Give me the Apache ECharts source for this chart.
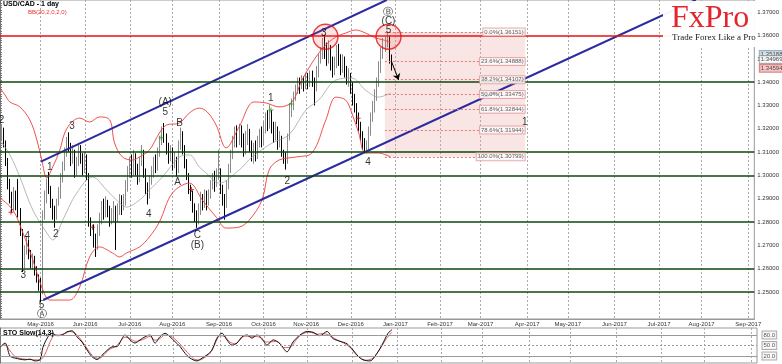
<!DOCTYPE html>
<html><head><meta charset="utf-8">
<script src="https://cdn.jsdelivr.net/npm/echarts@6/dist/echarts.min.js"></script>
<style>html,body{margin:0;padding:0;background:#fff}#c{width:782px;height:364px}</style>
</head><body><div id="c"></div>
<script>
// ---------- data ----------
const startDay = '2016-04-04', endDay = '2017-09-06';
// daily candles [open, high, low, close]
const ohlc = [
[1.3150,1.3215,1.3130,1.3170],[1.3170,1.3220,1.3150,1.3195],[1.3195,1.3205,1.3120,1.3140],[1.3140,1.3150,1.3040,1.3060],
[1.3060,1.3075,1.2940,1.2960],[1.2960,1.2985,1.2880,1.2900],[1.2900,1.2930,1.2840,1.2870],[1.2870,1.2950,1.2850,1.2920],
[1.2920,1.2935,1.2850,1.2880],[1.2880,1.2985,1.2820,1.2850],[1.2850,1.2860,1.2740,1.2760],[1.2760,1.2770,1.2585,1.2620],
[1.2620,1.2700,1.2600,1.2680],[1.2680,1.2740,1.2660,1.2715],[1.2715,1.2725,1.2640,1.2660],[1.2660,1.2680,1.2600,1.2620],
[1.2620,1.2665,1.2595,1.2640],[1.2640,1.2655,1.2570,1.2590],[1.2590,1.2610,1.2540,1.2560],[1.2560,1.2575,1.2505,1.2530],
[1.2530,1.2560,1.2455,1.2500],[1.2500,1.2850,1.2490,1.2830],[1.2830,1.2935,1.2810,1.2900],[1.2900,1.2985,1.2880,1.2960],
[1.2960,1.3015,1.2920,1.2940],[1.2940,1.2955,1.2860,1.2880],[1.2880,1.2900,1.2810,1.2850],[1.2850,1.2870,1.2775,1.2830],
[1.2830,1.2900,1.2810,1.2880],[1.2880,1.2950,1.2870,1.2920],[1.2920,1.3010,1.2900,1.2990],[1.2990,1.3060,1.2970,1.3040],
[1.3040,1.3120,1.3020,1.3100],[1.3100,1.3165,1.3080,1.3150],[1.3150,1.3185,1.3100,1.3130],[1.3130,1.3140,1.3040,1.3070],
[1.3070,1.3130,1.3050,1.3100],[1.3100,1.3110,1.2990,1.3020],[1.3020,1.3080,1.3000,1.3060],[1.3060,1.3140,1.3040,1.3110],
[1.3110,1.3130,1.3050,1.3080],[1.3080,1.3095,1.3000,1.3030],[1.3030,1.3100,1.3010,1.3070],[1.3070,1.3090,1.2980,1.3000],
[1.3000,1.3010,1.2780,1.2800],[1.2800,1.2820,1.2740,1.2770],[1.2770,1.2790,1.2690,1.2720],[1.2720,1.2750,1.2650,1.2700],
[1.2700,1.2790,1.2680,1.2760],[1.2760,1.2840,1.2740,1.2810],[1.2810,1.2890,1.2790,1.2870],[1.2870,1.2900,1.2810,1.2840],
[1.2840,1.2910,1.2820,1.2880],[1.2880,1.2895,1.2820,1.2850],[1.2850,1.2870,1.2780,1.2800],[1.2800,1.2860,1.2790,1.2830],
[1.2830,1.2890,1.2800,1.2860],[1.2860,1.2870,1.2680,1.2820],[1.2820,1.2880,1.2800,1.2850],[1.2850,1.2920,1.2830,1.2900],
[1.2900,1.2915,1.2830,1.2860],[1.2860,1.2920,1.2850,1.2890],[1.2890,1.2980,1.2870,1.2950],[1.2950,1.3040,1.2930,1.3010],
[1.3010,1.3080,1.2990,1.3050],[1.3050,1.3090,1.2990,1.3020],[1.3020,1.3110,1.3000,1.3080],[1.3080,1.3095,1.3000,1.3030],
[1.3030,1.3050,1.2960,1.2990],[1.2990,1.3080,1.2970,1.3060],[1.3060,1.3130,1.3040,1.3100],[1.3100,1.3110,1.2990,1.3020],
[1.3020,1.3030,1.2920,1.2950],[1.2950,1.2970,1.2875,1.2920],[1.2920,1.3000,1.2900,1.2980],[1.2980,1.3040,1.2960,1.3010],
[1.3010,1.3080,1.2990,1.3060],[1.3060,1.3090,1.3010,1.3040],[1.3040,1.3120,1.3020,1.3100],[1.3100,1.3170,1.3080,1.3150],
[1.3150,1.3210,1.3130,1.3190],[1.3190,1.3225,1.3140,1.3170],[1.3170,1.3180,1.3090,1.3120],[1.3120,1.3140,1.3050,1.3080],
[1.3080,1.3130,1.3060,1.3110],[1.3110,1.3120,1.3020,1.3050],[1.3050,1.3100,1.3030,1.3070],[1.3070,1.3080,1.2995,1.3020],
[1.3020,1.3150,1.3010,1.3130],[1.3130,1.3205,1.3110,1.3170],[1.3170,1.3190,1.3090,1.3110],[1.3110,1.3130,1.3030,1.3060],
[1.3060,1.3070,1.2980,1.3000],[1.3000,1.3010,1.2920,1.2940],[1.2940,1.2960,1.2890,1.2920],[1.2920,1.2935,1.2840,1.2870],
[1.2870,1.2880,1.2800,1.2830],[1.2830,1.2850,1.2775,1.2800],[1.2800,1.2880,1.2790,1.2850],[1.2850,1.2930,1.2830,1.2900],
[1.2900,1.2920,1.2850,1.2880],[1.2880,1.2940,1.2860,1.2920],[1.2920,1.2935,1.2850,1.2880],[1.2880,1.2940,1.2870,1.2910],
[1.2910,1.2980,1.2900,1.2950],[1.2950,1.3010,1.2940,1.2990],[1.2990,1.3020,1.2930,1.2960],[1.2960,1.3030,1.2950,1.3000],
[1.3000,1.3110,1.2980,1.3020],[1.3020,1.3030,1.2920,1.2950],[1.2950,1.2960,1.2870,1.2900],[1.2900,1.2920,1.2810,1.2880],
[1.2880,1.2980,1.2860,1.2960],[1.2960,1.3050,1.2940,1.3030],[1.3030,1.3110,1.3010,1.3090],[1.3090,1.3170,1.3070,1.3140],
[1.3140,1.3210,1.3120,1.3190],[1.3190,1.3215,1.3120,1.3150],[1.3150,1.3222,1.3130,1.3200],[1.3200,1.3215,1.3120,1.3160],
[1.3160,1.3180,1.3080,1.3110],[1.3110,1.3190,1.3090,1.3150],[1.3150,1.3220,1.3130,1.3180],[1.3180,1.3200,1.3100,1.3130],
[1.3130,1.3150,1.3060,1.3080],[1.3080,1.3140,1.3050,1.3120],[1.3120,1.3150,1.3060,1.3090],[1.3090,1.3170,1.3070,1.3140],
[1.3140,1.3200,1.3120,1.3180],[1.3180,1.3210,1.3120,1.3150],[1.3150,1.3230,1.3130,1.3200],[1.3200,1.3270,1.3180,1.3240],
[1.3240,1.3280,1.3190,1.3220],[1.3220,1.3305,1.3200,1.3260],[1.3260,1.3280,1.3180,1.3210],[1.3210,1.3230,1.3140,1.3170],
[1.3170,1.3230,1.3150,1.3200],[1.3200,1.3210,1.3110,1.3140],[1.3140,1.3190,1.3120,1.3160],[1.3160,1.3170,1.3080,1.3100],
[1.3100,1.3110,1.3050,1.3080],[1.3080,1.3100,1.3025,1.3060],[1.3060,1.3180,1.3050,1.3160],[1.3160,1.3310,1.3150,1.3290],
[1.3290,1.3330,1.3250,1.3300],[1.3300,1.3360,1.3280,1.3340],[1.3340,1.3390,1.3320,1.3370],[1.3370,1.3420,1.3350,1.3400],
[1.3400,1.3420,1.3350,1.3380],[1.3380,1.3430,1.3370,1.3410],[1.3410,1.3425,1.3360,1.3390],[1.3390,1.3440,1.3370,1.3420],
[1.3420,1.3440,1.3370,1.3400],[1.3400,1.3450,1.3380,1.3430],[1.3430,1.3450,1.3380,1.3410],[1.3410,1.3420,1.3300,1.3380],
[1.3380,1.3470,1.3360,1.3440],[1.3440,1.3520,1.3420,1.3500],[1.3500,1.3550,1.3480,1.3520],[1.3520,1.3590,1.3500,1.3560],
[1.3560,1.3604,1.3500,1.3540],[1.3540,1.3570,1.3470,1.3500],[1.3500,1.3580,1.3480,1.3550],[1.3550,1.3560,1.3450,1.3490],
[1.3490,1.3510,1.3420,1.3440],[1.3440,1.3510,1.3430,1.3480],[1.3480,1.3560,1.3460,1.3530],[1.3530,1.3565,1.3470,1.3500],
[1.3500,1.3520,1.3430,1.3460],[1.3460,1.3520,1.3440,1.3490],[1.3490,1.3510,1.3420,1.3450],[1.3450,1.3470,1.3390,1.3410],
[1.3410,1.3460,1.3380,1.3430],[1.3430,1.3440,1.3350,1.3380],[1.3380,1.3400,1.3300,1.3330],[1.3330,1.3350,1.3270,1.3300],
[1.3300,1.3310,1.3220,1.3250],[1.3250,1.3270,1.3190,1.3220],[1.3220,1.3230,1.3150,1.3180],[1.3180,1.3190,1.3110,1.3140],
[1.3140,1.3160,1.3095,1.3120],[1.3120,1.3150,1.3094,1.3130],[1.3130,1.3210,1.3110,1.3190],[1.3190,1.3270,1.3170,1.3250],
[1.3250,1.3320,1.3230,1.3290],[1.3290,1.3370,1.3270,1.3340],[1.3340,1.3420,1.3320,1.3400],[1.3400,1.3490,1.3380,1.3460],
[1.3460,1.3550,1.3440,1.3520],[1.3520,1.3590,1.3500,1.3560],[1.3560,1.3595,1.3530,1.3570],[1.3570,1.3615,1.3550,1.3590],
[1.3590,1.3600,1.3480,1.3500],[1.3500,1.3519,1.3450,1.3459]
];
// Bollinger bands: [bar index, price]
const bbUpper = [[0,1.3375],[2.5,1.3345],[4.9,1.3315],[9.8,1.3294],[14.7,1.3238],[18.2,1.3152],[20.6,1.3066],[23.1,1.2989],[26,1.3036],[29.5,1.3109],[31.9,1.3182],[35.4,1.3229],[39.3,1.3246],[44.2,1.3229],[49.1,1.3251],[54.1,1.3238],[56.5,1.3139],[60.4,1.3079],[65.4,1.3066],[68.8,1.3079],[73.7,1.3109],[78.6,1.3182],[82.1,1.3216],[88.5,1.3225],[93.4,1.3268],[98.3,1.3289],[102.2,1.3272],[106.6,1.3216],[111.5,1.3118],[117.9,1.3208],[125.3,1.3315],[131.2,1.3311],[137.6,1.3294],[144,1.3315],[148.9,1.3409],[153.8,1.3482],[159.7,1.3551],[165.6,1.3594],[170.5,1.3611],[175.4,1.3624],[180.3,1.3611],[185.3,1.3590],[189.2,1.3581],[192.6,1.3572]];
const bbMiddle = [[0,1.3152],[4.9,1.3088],[9.8,1.2993],[16.2,1.2851],[23.1,1.2753],[26,1.2723],[31,1.2809],[37.8,1.2924],[45.7,1.2993],[52.6,1.2937],[57.5,1.2894],[62.4,1.2864],[68.8,1.2894],[73.7,1.2937],[80.1,1.2993],[88.5,1.3079],[93.4,1.3088],[98.3,1.3036],[101.7,1.3010],[108.1,1.2967],[117.9,1.3023],[124.3,1.3079],[134.2,1.3139],[142.5,1.3174],[150.9,1.3281],[157.2,1.3324],[165.6,1.3409],[173.5,1.3418],[180.3,1.3366],[186.7,1.3336],[192.6,1.3353]];
const bbLower = [[0,1.2903],[6.4,1.2851],[11.3,1.2753],[16.2,1.2637],[20.6,1.2521],[24.6,1.2465],[29.5,1.2465],[34.4,1.2465],[39.3,1.2521],[44.2,1.2650],[49.1,1.2693],[55.5,1.2667],[59,1.2650],[62.4,1.2667],[68.8,1.2693],[73.7,1.2736],[78.6,1.2800],[85,1.2924],[93.4,1.2967],[99.8,1.2894],[106.6,1.2821],[111.5,1.2774],[117.9,1.2778],[122.9,1.2808],[129.2,1.2894],[132.7,1.3023],[137.6,1.3066],[145.9,1.3079],[153.8,1.3096],[160.7,1.3238],[165.6,1.3336],[170.5,1.3323],[173.5,1.3268],[176.9,1.3182],[180.3,1.3096],[186.7,1.3096],[192.6,1.3079]];
// Stochastic slow (14,3): [bar index, value]
const stoMain = [[0,45],[2.5,57],[4.9,20],[7.4,14],[9.8,11],[12.3,9],[14.7,11],[17.2,6],[19.7,10],[21.1,45],[23.6,75],[25.6,85],[28,78],[30.5,80],[32.9,89],[35.4,92],[37.8,75],[40.3,60],[42.8,37],[45.2,18],[47.7,10],[50.1,22],[52.6,36],[55,46],[57.5,47],[60,70],[61.4,80],[63.9,66],[66.3,57],[68.8,66],[71.3,75],[73.7,80],[76.2,57],[78.6,75],[81.1,85],[83.5,75],[86,61],[88.5,47],[90.9,28],[93.4,14],[96.8,6],[99.3,14],[101.7,23],[104.2,37],[106.6,71],[109.1,85],[111.5,66],[114,51],[116.5,57],[118.9,75],[121.4,80],[123.8,71],[126.3,80],[128.7,70],[131.2,51],[134.2,66],[137.6,55],[141,32],[144,60],[147.4,80],[150.9,90],[153.8,88],[157.2,78],[160.7,90],[163.6,70],[167.1,62],[170.5,55],[173.5,37],[175.9,20],[178.4,9],[181.8,6],[185.3,28],[188.2,57],[190.7,85],[192.6,95]];
const stoSignal = [[0,48],[2.5,52],[4.9,35],[7.4,18],[9.8,13],[12.3,11],[14.7,10],[17.2,9],[19.7,9],[22.1,25],[24.6,60],[27,80],[29.5,80],[31.9,84],[34.4,90],[36.9,85],[39.3,70],[41.8,50],[44.2,30],[46.7,15],[49.1,14],[51.6,27],[54.1,40],[56.5,46],[59,60],[61.4,74],[63.9,70],[66.3,62],[68.8,64],[71.3,70],[73.7,76],[76.2,65],[78.6,70],[81.1,80],[83.5,78],[86,68],[88.5,54],[90.9,38],[93.4,22],[95.8,10],[98.3,9],[100.7,16],[103.2,28],[105.7,55],[108.1,78],[110.6,75],[113,60],[115.5,55],[117.9,66],[120.4,77],[122.9,75],[125.3,76],[127.8,73],[130.2,60],[132.7,60],[136.1,62],[139.6,44],[142.5,45],[145.9,68],[148.9,84],[152.3,88],[155.8,82],[158.7,84],[162.2,78],[165.6,66],[168.6,58],[172,45],[174.4,28],[176.9,15],[179.9,8],[183.3,14],[186.7,40],[189.7,68],[192.6,88]];
// drawn objects
const upperChannel = [[20.15,1.30588],[190.7,1.37528]];
const lowerChannel = [[21.3,1.24652],[343.1,1.37528]];
const supportLevels = [1.34052,1.30948,1.29918,1.28193,1.26476,1.24717];
const resistanceLevel = 1.36026;
const fibPct = ['0.0','23.6','38.2','50.0','61.8','78.6','100.0'];
const fibPrices = [1.36151,1.34888,1.34107,1.33475,1.32844,1.31944,1.30799];
const fibRange = [189.8,259.0];
const priceTags = [1.35188,1.34969,1.34594];
const stoLevels = [80,50,20];
const stoLevelTags = ['80.0','50.0','20.0'];
const yLabels = [1.25,1.26,1.27,1.28,1.29,1.30,1.31,1.32,1.33,1.34,1.35,1.36,1.37];
const waveLabels = [['2',0.8,1.3238],['3',35.5,1.3209],['1',24.6,1.3036],['2',27.5,1.2749],['4',13.4,1.2740],['3',11.5,1.2570],['5',20.5,1.2444],['Ⓐ',20.5,1.2405],['4',73.4,1.2834],['(A)',81.5,1.3312],['5',81.5,1.3271],['B',88.6,1.3224],['A',87.6,1.2970],['C',97.3,1.2742],['(B)',97.3,1.2699],['1',133.5,1.3332],['2',141.7,1.2976],['3',159.7,1.3611],['4',181.5,1.3056],['Ⓑ',191.3,1.3700],['(C)',191.6,1.3663],['5',191.6,1.3621],['1',258.8,1.3226]];
const circles = [[160.5,1.3595],[191.6,1.3595]];
const signalsUp = [[69.7,1.3100],[79.5,1.3162],[133.6,1.3281],[143.7,1.3306]];
const signalsDown = [[5.4,1.2842],[45.6,1.2777],[94.4,1.2940],[176.6,1.3245]];
const arrow = [[193.1,1.3488],[196.6,1.3410]];
const yMin = 1.23837, yMax = 1.37528;

// ---------- build ----------
function weekdays(s, e) {
  const out = []; let d = new Date(s + 'T00:00:00Z'); const end = new Date(e + 'T00:00:00Z');
  while (d <= end) { const w = d.getUTCDay(); if (w > 0 && w < 6) out.push(d.toISOString().slice(0, 10)); d = new Date(d.getTime() + 86400000); }
  return out;
}
const cats = weekdays(startDay, endDay);
const N = cats.length;
const monthStart = i => i > 0 && cats[i].slice(0, 7) !== cats[i - 1].slice(0, 7);
const MON = ['Jan','Feb','Mar','Apr','May','Jun','Jul','Aug','Sep','Oct','Nov','Dec'];
const fmtMonth = v => MON[+v.slice(5, 7) - 1] + '-' + v.slice(0, 4);
const tickVals = []; for (let k = 1239; k <= 1375; k++) tickVals.push(k / 1000);
const FONT = '"Liberation Sans", Arial, sans-serif';
const lastIdx = N - 1;
const HIDDEN = {color: 'rgba(0,0,0,0)'};

const chart = echarts.init(document.getElementById('c'), null, {renderer: 'canvas'});
const line = (data, color, width, extra) => Object.assign({type: 'line', xAxisIndex: 1, yAxisIndex: 0, data, symbol: 'none', smooth: 0.35, lineStyle: {color, width}, silent: true, z: 3}, extra || {});
const tag = (label, opts) => ({show: true, position: opts.pos || 'right', distance: opts.dist || 0, formatter: label, fontFamily: FONT, fontSize: 6, color: opts.color || '#222', backgroundColor: opts.bg || '#fff', borderColor: opts.border || '#999', borderWidth: 1, padding: [1, 1, 0, 1]});

const option = {
  animation: false,
  backgroundColor: '#fff',
  grid: [
    {left: 0, right: 25, top: 0, height: 319, show: true, borderColor: '#999', borderWidth: 1},
    {left: 0, right: 25, top: 328, height: 35, show: true, borderColor: '#999', borderWidth: 1}
  ],
  xAxis: [
    {type: 'category', gridIndex: 0, data: cats, boundaryGap: false,
     axisLine: {show: true, lineStyle: {color: '#999'}}, axisTick: {show: false},
     axisLabel: {interval: (i) => monthStart(i), formatter: fmtMonth, fontSize: 6, fontFamily: FONT, color: '#333', margin: 2},
     splitLine: {show: true, interval: (i) => monthStart(i), lineStyle: {color: '#aaa', type: [2, 2], width: 1}}},
    {type: 'value', gridIndex: 0, min: 0, max: lastIdx, show: false},
    {type: 'category', gridIndex: 1, data: cats, boundaryGap: false,
     axisLine: {show: false}, axisTick: {show: false}, axisLabel: {show: false},
     splitLine: {show: true, interval: (i) => monthStart(i), lineStyle: {color: '#aaa', type: [2, 2], width: 1}}},
    {type: 'value', gridIndex: 1, min: 0, max: lastIdx, show: false}
  ],
  yAxis: [
    {type: 'value', gridIndex: 0, position: 'right', min: yMin, max: yMax,
     axisLine: {show: true, lineStyle: {color: '#777'}},
     axisTick: {show: true, customValues: tickVals, length: 2, lineStyle: {color: '#777'}},
     axisLabel: {customValues: yLabels, formatter: v => v.toFixed(5), fontSize: 6, fontFamily: FONT, color: '#333', margin: 3},
     splitLine: {show: false}},
    {type: 'value', gridIndex: 1, position: 'right', min: 0, max: 100,
     axisLine: {show: true, lineStyle: {color: '#777'}}, axisTick: {show: false}, axisLabel: {show: false}, splitLine: {show: false}}
  ],
  series: [
    // Fibonacci zone
    {type: 'line', xAxisIndex: 1, yAxisIndex: 0, data: [], silent: true, z: 1,
     markArea: {silent: true, itemStyle: {color: 'rgba(236,160,160,0.28)'},
       data: [[{coord: [fibRange[0], fibPrices[0]]}, {coord: [fibRange[1], fibPrices[fibPrices.length - 1]]}]]},
     markLine: {silent: true, symbol: ['none', 'none'], label: {show: false},
       lineStyle: {color: '#e07a7a', width: 1, type: [2, 2]},
       data: fibPrices.map(p => [{coord: [fibRange[0], p]}, {coord: [fibRange[1], p]}])}},
    // candles
    {type: 'candlestick', xAxisIndex: 0, yAxisIndex: 0, barWidth: 1,
     data: ohlc.map(r => [r[0], r[3], r[2], r[1]]),
     itemStyle: {color: '#a4a4a4', color0: '#000', borderColor: '#8a8a8a', borderColor0: '#000', borderWidth: 1},
     markLine: {silent: true, symbol: ['none', 'none'], label: {show: false},
       data: supportLevels.map(v => ({yAxis: v, lineStyle: {color: '#0d470d', width: 1.6, type: 'solid'}}))
         .concat([{yAxis: resistanceLevel, lineStyle: {color: '#e81010', width: 1.5, type: 'solid'}}])},
     z: 2},
    line(bbUpper, '#f03c3c', 0.9),
    line(bbLower, '#f03c3c', 0.9),
    line(bbMiddle, '#8fa08f', 0.7),
    // channel
    {type: 'line', xAxisIndex: 1, yAxisIndex: 0, data: upperChannel, symbol: 'none', lineStyle: {color: '#2b2ba0', width: 2}, silent: true, z: 4},
    {type: 'line', xAxisIndex: 1, yAxisIndex: 0, data: lowerChannel, symbol: 'none', lineStyle: {color: '#2b2ba0', width: 2}, silent: true, z: 4,
     markLine: {silent: true, symbol: ['none', 'arrow'], symbolSize: 6, label: {show: false}, lineStyle: {color: '#000', width: 1, type: 'solid'},
       data: [[{coord: arrow[0]}, {coord: arrow[1]}]]}},
    // circles
    {type: 'scatter', xAxisIndex: 1, yAxisIndex: 0, data: circles, symbol: 'circle', symbolSize: 25, silent: true, z: 5,
     itemStyle: {color: 'rgba(255,90,90,0.22)', borderColor: '#e01010', borderWidth: 1.4}},
    // signal crosses
    {type: 'scatter', xAxisIndex: 1, yAxisIndex: 0, data: signalsUp, symbol: 'path://M4,0H6V4H10V6H6V10H4V6H0V4H4Z', symbolSize: 5, silent: true, z: 5, itemStyle: {color: '#10a010'}},
    {type: 'scatter', xAxisIndex: 1, yAxisIndex: 0, data: signalsDown, symbol: 'path://M4,0H6V4H10V6H6V10H4V6H0V4H4Z', symbolSize: 5, silent: true, z: 5, itemStyle: {color: '#c01010'}},
    // wave labels
    {type: 'scatter', xAxisIndex: 1, yAxisIndex: 0, symbolSize: 1, itemStyle: HIDDEN, silent: true, z: 6,
     data: waveLabels.map(w => ({name: w[0], value: [w[1], w[2]]})),
     label: {show: true, position: 'inside', formatter: '{b}', fontFamily: FONT, fontSize: 10, color: '#000'}},
    // fib labels
    {type: 'scatter', xAxisIndex: 1, yAxisIndex: 0, symbolSize: 1, itemStyle: HIDDEN, silent: true, z: 6,
     data: fibPrices.map((p, i) => ({name: fibPct[i] + '%(' + p.toFixed(5) + ')', value: [fibRange[1], p]})),
     label: tag('{b}', {pos: 'left', dist: 0, border: '#e29a9a', color: '#333'})},
    // price tags on the axis
    {type: 'scatter', xAxisIndex: 1, yAxisIndex: 0, symbolSize: 1, itemStyle: HIDDEN, silent: true, z: 6, clip: false,
     data: [
       {name: priceTags[0].toFixed(5), value: [lastIdx, priceTags[0]], label: {backgroundColor: '#c9dbe9', borderColor: '#7f9fb9'}},
       {name: priceTags[1].toFixed(5), value: [lastIdx, priceTags[1]], label: {backgroundColor: '#fff', borderColor: '#999'}},
       {name: priceTags[2].toFixed(5), value: [lastIdx, priceTags[2]], label: {backgroundColor: '#f2bcbc', borderColor: '#d06060'}}
     ],
     label: tag('{b}', {pos: 'right', dist: 5})},
    // stochastic
    {type: 'line', xAxisIndex: 3, yAxisIndex: 1, data: stoSignal, symbol: 'none', smooth: 0.3, lineStyle: {color: '#e06060', width: 1}, silent: true, z: 3},
    {type: 'line', xAxisIndex: 3, yAxisIndex: 1, data: stoMain, symbol: 'none', smooth: 0.3, lineStyle: {color: '#111', width: 1}, silent: true, z: 4,
     markLine: {silent: true, symbol: ['none', 'none'], label: {show: false},
       data: stoLevels.map(v => ({yAxis: v, lineStyle: {color: '#999', width: 1, type: v === 50 ? [2, 2] : 'solid'}}))}},
    {type: 'scatter', xAxisIndex: 3, yAxisIndex: 1, symbolSize: 1, itemStyle: HIDDEN, silent: true, z: 6, clip: false,
     data: stoLevels.map((v, i) => ({name: stoLevelTags[i], value: [lastIdx, v]})),
     label: tag('{b}', {pos: 'right', dist: 5})}
  ],
  graphic: [
    {type: 'text', left: 3, top: 1, z: 60, style: {text: 'USD/CAD - 1 day', font: 'bold 7px ' + FONT, fill: '#000'}},
    {type: 'text', left: 28, top: 9, z: 60, style: {text: 'BB(20,2,0,2,0)', font: '6px ' + FONT, fill: '#f03030'}},
    {type: 'text', left: 3, top: 330, z: 60, style: {text: 'STO Slow(14,3)', font: 'bold 7px ' + FONT, fill: '#000'}},
    {type: 'rect', z: 50, shape: {x: 663, y: 1, width: 93, height: 46}, style: {fill: 'rgba(255,255,255,0.95)'}},
    {type: 'text', z: 51, left: 671, top: 3, style: {text: 'FxPro', font: '32px "Liberation Serif", serif', fill: '#e3262e'}},
    {type: 'text', z: 51, left: 672, top: 33, style: {text: 'Trade Forex Like a Pro', font: '9px "Liberation Serif", serif', fill: '#222'}}
  ]
};
chart.setOption(option);
</script></body></html>
